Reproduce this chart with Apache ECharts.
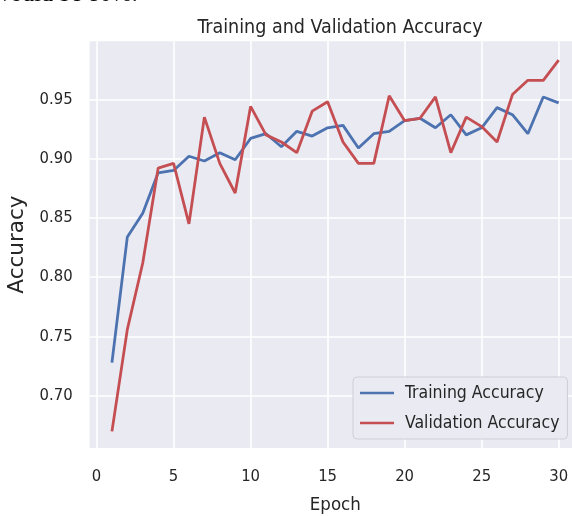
<!DOCTYPE html>
<html>
<head>
<meta charset="utf-8">
<script src="https://cdn.jsdelivr.net/npm/echarts@6/dist/echarts.min.js"></script>
<style>
  html, body { margin: 0; padding: 0; background: #ffffff; }
  #chart { width: 572px; height: 516px; }
</style>
</head>
<body>
<div id="chart"></div>
<script>
const epochs = [1,2,3,4,5,6,7,8,9,10,11,12,13,14,15,16,17,18,19,20,21,22,23,24,25,26,27,28,29,30];
const trainingAccuracy = [0.728,0.834,0.854,0.888,0.890,0.902,0.898,0.905,0.899,0.917,0.921,0.910,0.923,0.919,0.926,0.928,0.909,0.921,0.923,0.932,0.934,0.926,0.937,0.920,0.926,0.943,0.937,0.921,0.952,0.947];
const validationAccuracy = [0.670,0.756,0.812,0.892,0.896,0.845,0.935,0.896,0.871,0.944,0.920,0.914,0.905,0.940,0.948,0.914,0.896,0.896,0.953,0.932,0.934,0.952,0.905,0.935,0.927,0.914,0.954,0.966,0.966,0.983];
const xTicks = [0,5,10,15,20,25,30];
const yTicks = [0.70,0.75,0.80,0.85,0.90,0.95];

const FONT = "'DejaVu Sans Condensed', 'DejaVu Sans', sans-serif";
const TXT = '#262626';

const chart = echarts.init(document.getElementById('chart'), null, { renderer: 'canvas' });
chart.setOption({
  backgroundColor: '#ffffff',
  animation: false,
  title: {
    text: 'Training and Validation Accuracy',
    left: 335, top: 13, textAlign: 'center',
    textStyle: { fontFamily: FONT, fontSize: 19.5, fontWeight: 'normal', color: TXT }
  },
  graphic: [{
    type: 'text', left: -7, top: -17,
    style: { text: 'would be 80%.', font: "24px 'Liberation Serif', 'DejaVu Serif', serif", fill: '#000000' }
  }],
  grid: { left: 89.6, top: 41.2, width: 491.4, height: 406.8, outerBoundsMode: 'none', containLabel: false,
    show: true, backgroundColor: '#eaeaf2', borderWidth: 0 },
  legend: {
    orient: 'vertical', left: 353, top: 377,
    icon: 'rect', itemWidth: 34, itemHeight: 2.5, itemGap: 12,
    padding: [7, 8, 7, 7],
    backgroundColor: '#eaeaf2', borderColor: '#cfcfd6', borderWidth: 1, borderRadius: 4,
    textStyle: { fontFamily: FONT, fontSize: 17.5, color: TXT, lineHeight: 18, padding: [0, 0, 0, 6] },
    data: ['Training Accuracy', 'Validation Accuracy']
  },
  xAxis: {
    type: 'value', min: -0.45, max: 31.45,
    name: 'Epoch', nameLocation: 'middle', nameGap: 48,
    nameTextStyle: { fontFamily: FONT, fontSize: 18.5, color: TXT },
    axisLine: { show: false }, axisTick: { show: false, customValues: xTicks },
    axisLabel: { customValues: xTicks, fontFamily: FONT, fontSize: 16.5, color: TXT, margin: 20 },
    splitLine: { show: true, lineStyle: { color: '#ffffff', width: 1.6 } }
  },
  yAxis: {
    type: 'value', min: 0.656, max: 0.999,
    name: 'Accuracy', nameLocation: 'middle', nameGap: 55,
    nameTextStyle: { fontFamily: "'DejaVu Sans', sans-serif", fontSize: 21.5, color: TXT },
    axisLine: { show: false }, axisTick: { show: false, customValues: yTicks },
    axisLabel: { customValues: yTicks, fontFamily: FONT, fontSize: 16.5, color: TXT, margin: 17,
      formatter: v => v.toFixed(2) },
    splitLine: { show: true, lineStyle: { color: '#ffffff', width: 1.6 } }
  },
  series: [
    { name: 'Training Accuracy', type: 'line', data: epochs.map((e, i) => [e, trainingAccuracy[i]]),
      symbol: 'none', color: '#4c72b0', lineStyle: { width: 2.8, color: '#4c72b0' } },
    { name: 'Validation Accuracy', type: 'line', data: epochs.map((e, i) => [e, validationAccuracy[i]]),
      symbol: 'none', color: '#c44e52', lineStyle: { width: 2.8, color: '#c44e52' } }
  ]
});
</script>
</body>
</html>
